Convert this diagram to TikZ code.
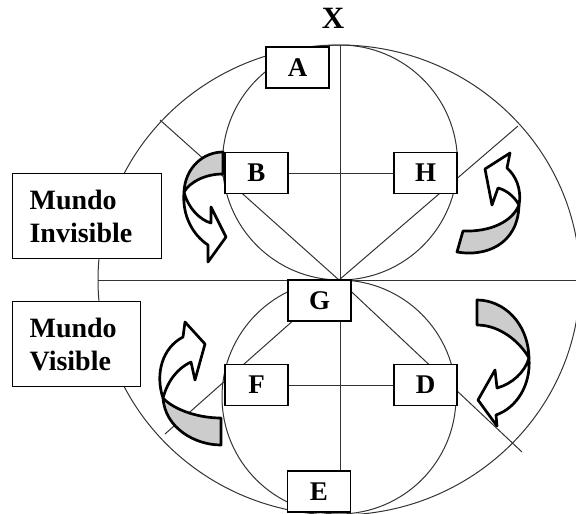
\documentclass[tikz,border=0pt]{standalone}
\usepackage{fontspec}
\setmainfont{Liberation Serif}
\usetikzlibrary{backgrounds}

\tikzset{
  letra/.style={draw, fill=white, line width=1.2pt, minimum width=63pt, minimum height=41pt, inner sep=0pt, font=\bfseries\fontsize{27}{33}\selectfont},
  mundo/.style={draw, fill=white, line width=1.2pt, anchor=north west, align=left, inner xsep=17pt, inner ysep=0pt, minimum height=85pt, font=\bfseries\fontsize{28}{33}\selectfont},
  fino/.style={line width=1pt, black!80},
  cinta/.style={line width=2.7pt, line join=round, fill=white},
  dorso/.style={line width=2.7pt, line join=round, fill=black!20}
}

\begin{document}
\begin{tikzpicture}[x=1pt,y=-1pt]
\useasboundingbox (0,0) rectangle (576,514);

\node (X) at (333,18) {\bfseries\fontsize{31}{31}\selectfont X};

\node[letra] (A) at (297.5,67.5) {A};
\node[letra] (B) at (256.5,173) {B};
\node[letra] (H) at (425.5,173) {H};
\node[letra] (G) at (319.5,300.5) {G};
\node[letra] (F) at (256.5,385) {F};
\node[letra] (D) at (425.5,385) {D};
\node[letra] (E) at (319,491.5) {E};

\node[mundo, text width=115pt] (inv) at (12,173) {Mundo\\Invisible};
\node[mundo, text width=94pt] (vis) at (12,301) {Mundo\\Visible};

\coordinate (O) at (339,280);
\coordinate (arriba) at (340,45);
\coordinate (izq) at (98,280);
\coordinate (der) at (576,280);
\coordinate (no) at (160,120);
\coordinate (ne) at (518,126);
\coordinate (so) at (165,434);
\coordinate (se) at (522,452);

\begin{pgfonlayer}{background}
 \draw[fino] (O) ellipse [x radius=241, y radius=235];
 \draw[fino] (340,162.5) circle [radius=117.5];
 \draw[fino] (339,397) circle [radius=117];
 \draw[fino] (izq) -- (der);
 \draw[fino] (arriba) -- (E.north -| arriba);
 \draw[fino] (O) -- (no);
 \draw[fino] (O) -- (ne);
 \draw[fino] (O) -- (so);
 \draw[fino] (O) -- (se);
 \draw[fino] (B) -- (H);
 \draw[fino] (F) -- (D);
\end{pgfonlayer}

% flechas curvas
\filldraw[dorso] (223,152) .. controls (203,152) and (185,168) .. (184,192) .. controls (190,182) and (205,174) .. (223,174) -- cycle;
\filldraw[cinta] (184,192) .. controls (182,216) and (193,235) .. (208,245) -- (208,262) -- (226,237) -- (211,207) -- (211,223) .. controls (200,220) and (188,208) .. (184,192) -- cycle;

\filldraw[dorso] (457,252) .. controls (485,257) and (518,245) .. (519,205) .. controls (512,222) and (490,232) .. (463,231) -- cycle;
\filldraw[cinta] (519,205) .. controls (522,188) and (515,175) .. (507,168) -- (510,153) -- (485,169) -- (492,205) -- (498,188) .. controls (506,190) and (514,196) .. (519,205) -- cycle;

\filldraw[dorso] (221,445) .. controls (195,445) and (165,428) .. (163,398) .. controls (172,408) and (195,418) .. (221,418) -- cycle;
\filldraw[cinta] (163,398) .. controls (155,374) and (162,348) .. (183,337) -- (185,322) -- (205,344) -- (195,380) -- (191,362) .. controls (178,368) and (168,380) .. (163,398) -- cycle;

\filldraw[dorso] (477,300) .. controls (503,300) and (528,322) .. (529,358) .. controls (520,342) and (500,325) .. (477,325) -- cycle;
\filldraw[cinta] (529,358) .. controls (531,386) and (516,408) .. (496,415) -- (497,426) -- (478,400) -- (495,370) -- (497,388) .. controls (512,384) and (525,372) .. (529,358) -- cycle;
\end{tikzpicture}
\end{document}
